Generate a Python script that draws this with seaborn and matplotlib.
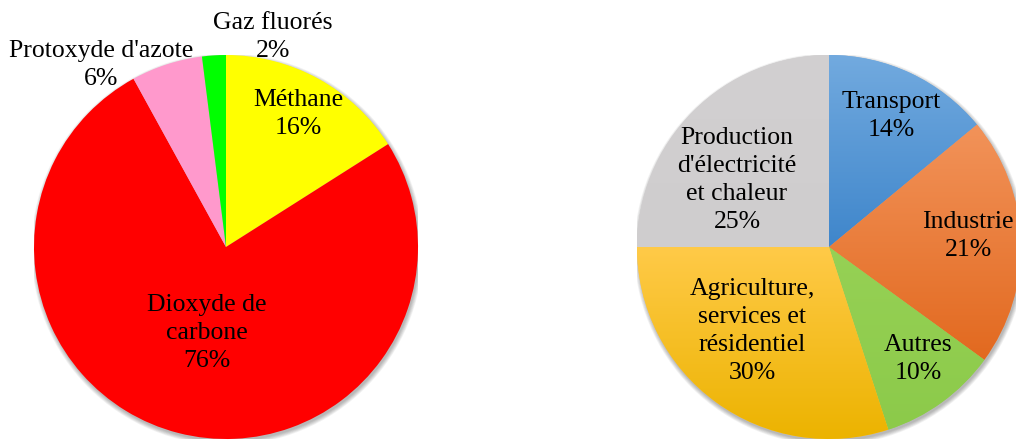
import numpy as np
import matplotlib
matplotlib.use("Agg")
import matplotlib.pyplot as plt
from matplotlib.colors import LinearSegmentedColormap
from matplotlib.patches import Circle
import seaborn as sns

# Données : gaz à effet de serre
gaz_labels = ["Méthane", "Dioxyde de\ncarbone", "Protoxyde d'azote", "Gaz fluorés"]
gaz_values = [16, 76, 6, 2]
gaz_colors = ["#ffff00", "#ff0000", "#ff99cc", "#00ff00"]

# Données : émissions par secteur
secteur_labels = ["Transport", "Industrie", "Autres",
                  "Agriculture,\nservices et\nrésidentiel",
                  "Production\nd'électricité\net chaleur"]
secteur_values = [14, 21, 10, 30, 25]
# dégradés (haut, bas) façon Excel
secteur_grad = [("#72aadf", "#3f86cb"), ("#f2935a", "#e2691f"),
                ("#96d155", "#8cca4a"), ("#ffca48", "#ecb300"),
                ("#d2d0d1", "#cfcdce")]

sns.set_theme(style="white")
plt.rcParams['font.family'] = ['Liberation Serif', 'DejaVu Serif']

W, H = 1016, 440
R = 192
fig = plt.figure(figsize=(W / 100, H / 100), dpi=100)
fig.patch.set_facecolor('white')


def make_ax(cx, cy):
    ax = fig.add_axes([(cx - R) / W, (H - cy - R) / H, 2 * R / W, 2 * R / H])
    ax.set_axis_off()
    return ax


def shadow(ax):
    # ombre douce sous le disque
    for k in range(6):
        ax.add_patch(Circle((0.006, -0.012), 1.0 + 0.004 * k, color='black',
                            alpha=0.05, lw=0, zorder=0))


def put_labels(ax, labels, values, pos):
    for lab, v, (x, y) in zip(labels, values, pos):
        ax.text(x, y, f"{lab}\n{v}%", ha='center', va='center', fontsize=18.5,
                linespacing=1.35, color='black', zorder=5, clip_on=False)


# --- camembert gauche ---
ax1 = make_ax(226, 247)
shadow(ax1)
wedges1, _ = ax1.pie(gaz_values, colors=gaz_colors, startangle=90, counterclock=False,
                     radius=1, wedgeprops=dict(linewidth=0, zorder=2))
gaz_pos = [(0.375, 0.693), (-0.099, -0.448), (-0.651, 0.948), (0.245, 1.094)]
put_labels(ax1, gaz_labels, gaz_values, gaz_pos)
ax1.set_xlim(-1, 1)
ax1.set_ylim(-1, 1)

# --- camembert droit ---
ax2 = make_ax(829, 247)
shadow(ax2)
wedges2, _ = ax2.pie(secteur_values, colors=[g[0] for g in secteur_grad], startangle=90,
                     counterclock=False, radius=1, wedgeprops=dict(linewidth=0, zorder=2))
for w, (top, bot) in zip(wedges2, secteur_grad):
    ext = w.get_path().get_extents()
    cmap = LinearSegmentedColormap.from_list("g", [top, bot])
    grad = np.linspace(0, 1, 256).reshape(-1, 1)
    im = ax2.imshow(grad, cmap=cmap, extent=[ext.x0, ext.x1, ext.y0, ext.y1],
                    origin='upper', aspect='auto', zorder=3, interpolation='bilinear')
    im.set_clip_path(w)
secteur_pos = [(0.323, 0.682), (0.724, 0.057), (0.464, -0.583), (-0.401, -0.4375), (-0.479, 0.349)]
put_labels(ax2, secteur_labels, secteur_values, secteur_pos)
ax2.set_xlim(-1, 1)
ax2.set_ylim(-1, 1)
ax2.set_aspect('equal')

fig.savefig("out.png", dpi=100)
